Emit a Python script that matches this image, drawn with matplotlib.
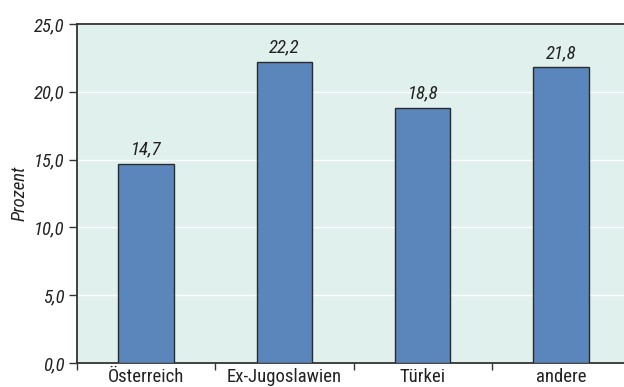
import matplotlib
matplotlib.use("Agg")
import matplotlib.pyplot as plt
from matplotlib import font_manager

categories = ["Österreich", "Ex-Jugoslawien", "Türkei", "andere"]
values = [14.7, 22.2, 18.8, 21.8]
yticks = [0, 5, 10, 15, 20, 25]
ylabel = "Prozent"

names = {f.name for f in font_manager.fontManager.ttflist}
preferred = [n for n in ["Roboto Condensed", "Archivo Narrow", "Liberation Sans"] if n in names]
plt.rcParams["font.family"] = preferred[:1] + ["DejaVu Sans"]

FS = 13.5

fig = plt.figure(figsize=(6.24, 3.87), dpi=100)
ax = fig.add_axes([77 / 624, 1 - 363 / 387, (624 - 77) / 624, (363 - 24) / 387])
ax.set_facecolor("#e0f0ec")

x = list(range(len(categories)))
ax.bar(x, values, width=0.4, color="#5b86bb", edgecolor="#2b2b2b", linewidth=1.0, zorder=3)
for xi, v in zip(x, values):
    ax.text(xi, v + 0.4, f"{v:.1f}".replace(".", ","), ha="center", va="bottom",
            fontsize=FS, style="italic", color="#222222")

ax.set_xlim(-0.5, 3.455)
ax.set_ylim(0, 25)
ax.set_yticks(yticks)
ax.set_yticklabels([f"{t:.1f}".replace(".", ",") for t in yticks], fontsize=FS,
                   style="italic", color="#222222")
ax.yaxis.grid(True, color="white", linewidth=1.0, zorder=0)
ax.set_axisbelow(True)

ax.set_xticks([i - 0.5 for i in range(len(categories))])
ax.set_xticklabels([])
ax.set_xticks(x, minor=True)
ax.set_xticklabels(categories, minor=True, fontsize=FS, color="#222222")
ax.tick_params(axis="x", which="minor", length=0, pad=3.5)
ax.tick_params(axis="x", which="major", length=5, width=1, color="#333333", direction="out")
ax.tick_params(axis="y", length=6, width=1, color="#333333", direction="out", pad=3)

ax.set_ylabel(ylabel, fontsize=FS, style="italic", color="#222222", labelpad=4)

for side in ["left", "bottom", "top"]:
    ax.spines[side].set_color("#333333")
    ax.spines[side].set_linewidth(1.3)
ax.spines["right"].set_visible(False)

fig.savefig("out.png", dpi=100)
